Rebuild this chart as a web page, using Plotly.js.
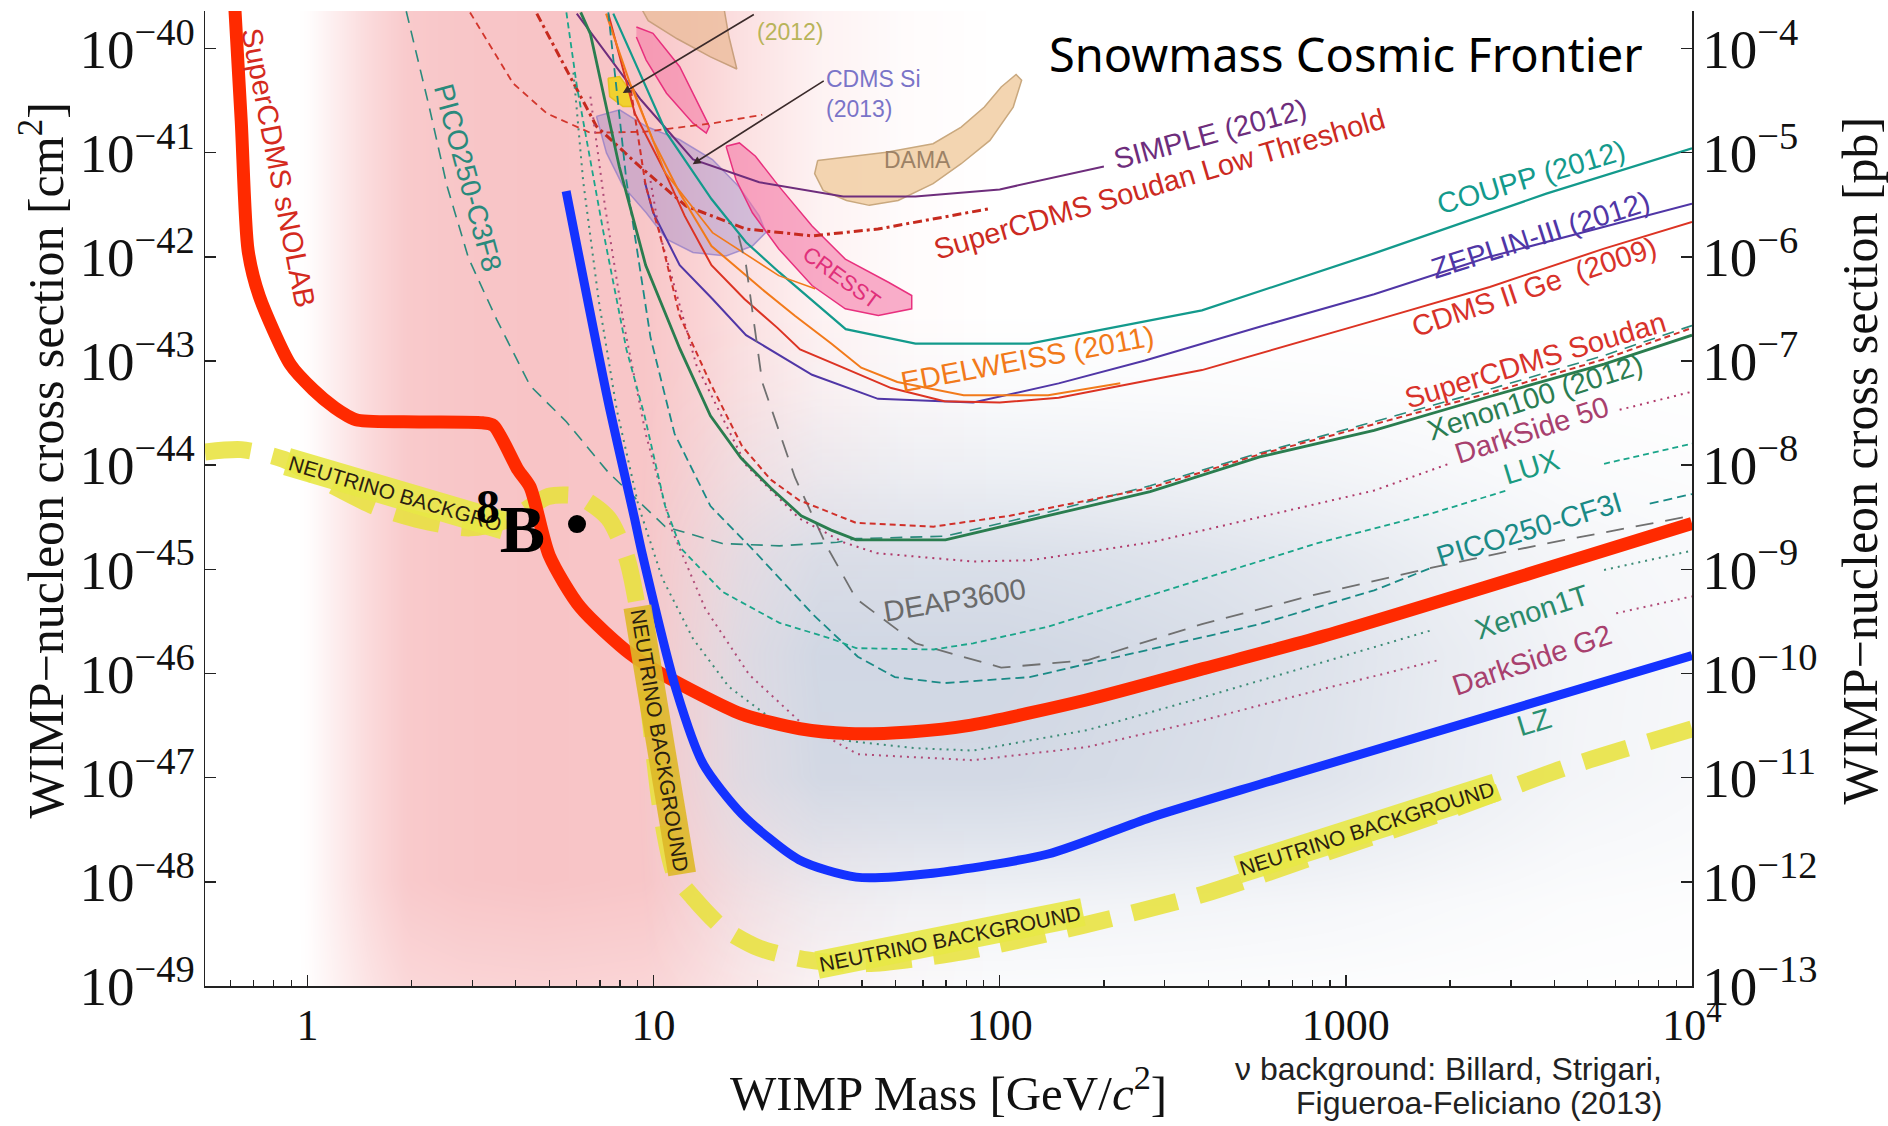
<!DOCTYPE html>
<html>
<head>
<meta charset="utf-8">
<script src="https://cdn.plot.ly/plotly-3.0.1.min.js"></script>
<style>html,body{margin:0;padding:0;background:#fff;}#chart{width:1888px;height:1126px;}</style>
</head>
<body>
<div id="chart"></div>
<script>
// ---------- data (WIMP mass in GeV, cross section in cm^2) ----------
const snolabMass  = [0.615, 0.644, 0.674, 0.726, 0.894, 1.04, 1.20, 1.30, 1.40, 2.1, 3.2, 3.45, 4.06, 4.40, 5.0, 6.14, 8.55, 10.8, 17.9, 26.5, 36.6, 55, 82.7, 179, 390, 869, 10000];
const snolabSigma = [3e-40, 2.0e-41, 1.15e-42, 4.2e-43, 9.2e-44, 5.3e-44, 3.55e-44, 3.0e-44, 2.7e-44, 2.6e-44, 2.55e-44, 2.4e-44, 9.0e-45, 6.15e-45, 1.35e-45, 4.33e-46, 1.55e-46, 9.5e-47, 4.1e-47, 2.95e-47, 2.65e-47, 2.75e-47, 3.2e-47, 5.6e-47, 1.12e-46, 2.3e-46, 2.75e-45];

const blueMass  = [5.59, 7.38, 8.8, 9.27, 11.66, 13.9, 17.97, 26.3, 38.5, 64.1, 138, 272, 608, 10000];
const blueSigma = [4.28e-42, 4.2e-44, 3.14e-45, 1.42e-45, 6.75e-47, 1.36e-47, 4.5e-48, 1.63e-48, 1.11e-48, 1.21e-48, 1.85e-48, 4.13e-48, 9.3e-48, 1.49e-46];

const nuMass  = [0.506, 0.644, 0.852, 1.128, 1.553, 2.14, 2.95, 3.90, 4.96, 6.06, 7.40, 8.35, 9.05, 9.80, 10.6, 11.5, 13.0, 15.8, 20.2, 27.8, 41.4, 78.7, 175, 390, 869, 1937, 4315, 10000];
const nuSigma = [1.34e-44, 1.41e-44, 1.14e-44, 6.9e-45, 4.05e-45, 2.94e-45, 2.5e-45, 3.1e-45, 5.0e-45, 5.0e-45, 3.1e-45, 1.32e-45, 3.68e-46, 3.36e-47, 3.99e-48, 1.2e-48, 7.1e-49, 3.64e-49, 2.31e-49, 1.78e-49, 1.64e-49, 2.14e-49, 3.84e-49, 7.66e-49, 1.89e-48, 4.69e-48, 1.25e-47, 2.94e-47];

const simpleMass  = [6.0, 9.19, 13.0, 20.2, 35.3, 57.1, 100, 200];
const simpleSigma = [2.16e-40, 3.22e-41, 8.6e-42, 5.2e-42, 3.79e-42, 3.79e-42, 4.44e-42, 7.36e-42];

const ltMass  = [4.6, 6.84, 9.1, 12.4, 18.5, 28.7, 44.5, 93.5];
const ltSigma = [2.16e-40, 1.79e-41, 7.43e-42, 3.08e-42, 1.85e-42, 1.59e-42, 1.85e-42, 2.9e-42];

const couppMass  = [7.65, 10.9, 14.7, 18.5, 23.1, 35.9, 57.1, 122, 384, 1207, 3795, 10000];
const couppSigma = [2.16e-40, 1.55e-41, 3.59e-42, 1.38e-42, 7.08e-43, 2.02e-43, 1.47e-43, 1.47e-43, 3.06e-43, 1.08e-42, 4.04e-42, 1.1e-41];

const zeplinMass  = [9.42, 9.96, 11.9, 14.8, 18.5, 28.7, 44.5, 83.8, 148, 263, 564, 1207, 2605, 5572, 10000];
const zeplinSigma = [5.35e-42, 2.68e-42, 8.3e-43, 3.94e-43, 1.77e-43, 7.37e-44, 4.33e-44, 3.99e-44, 6.1e-44, 1.01e-43, 2.13e-43, 4.38e-43, 1.0e-42, 1.95e-42, 3.23e-42];

const cdmsGeMass  = [7.40, 8.83, 10.8, 12.3, 14.7, 18.3, 22.8, 26.5, 35.3, 48.6, 69.2, 100, 148, 384, 1207, 2605, 5572, 10000];
const cdmsGeSigma = [2.16e-40, 2.38e-41, 6.44e-42, 2.47e-42, 8.3e-43, 3.94e-43, 2.08e-43, 1.29e-43, 8.63e-44, 5.5e-44, 4.1e-44, 3.99e-44, 4.44e-44, 8.18e-44, 2.44e-43, 5.14e-43, 1.2e-42, 2.16e-42];

const edelMass  = [7.29, 8.55, 9.96, 11.9, 14.7, 20.6, 25.6, 32.6, 39.8, 50.6, 78.7, 138, 223];
const edelSigma = [2.16e-40, 4.62e-41, 1.32e-41, 4.1e-42, 1.27e-42, 4.88e-43, 2.72e-43, 1.47e-43, 8.63e-44, 6.28e-44, 4.69e-44, 4.69e-44, 6.1e-44];

const orange2Mass  = [8.69, 10.8, 14.8, 23.0, 29.3];
const orange2Sigma = [4.31e-41, 6.44e-42, 1.71e-42, 6.6e-43, 4.93e-43];

const xe100Mass  = [6.16, 6.57, 7.96, 9.49, 11.9, 14.6, 17.9, 21.8, 26.7, 32.6, 38.5, 69.7, 138, 272, 564, 1207, 2605, 5572, 10000];
const xe100Sigma = [2.22e-40, 1.38e-40, 7.36e-42, 8.3e-43, 1.32e-43, 2.98e-44, 1.17e-44, 6.03e-45, 3.27e-45, 2.38e-45, 1.92e-45, 1.92e-45, 3.27e-45, 5.57e-45, 1.2e-44, 2.16e-44, 4.56e-44, 9.35e-44, 1.77e-43];

const soudanMass  = [8.6, 9.49, 10.4, 11.9, 14.6, 18.0, 21.8, 26.3, 38.5, 64.4, 107, 272, 564, 1207, 2605, 5572, 10000];
const soudanSigma = [4e-41, 4.81e-42, 1.7e-42, 2.72e-43, 6.1e-44, 1.53e-44, 7.26e-45, 4.62e-45, 2.79e-45, 2.57e-45, 3.27e-45, 6.03e-45, 1.27e-44, 2.47e-44, 4.94e-44, 1.04e-43, 2.08e-43];

const ds50Mass  = [9.8, 10.4, 13.3, 18.5, 26.3, 35.3, 44.2, 83.2, 122, 275, 1207, 1983, null, 6180, 10000];
const ds50Sigma = [5.35e-42, 1.7e-42, 9.12e-44, 1.0e-44, 3.1e-45, 1.82e-45, 1.43e-45, 1.19e-45, 1.22e-45, 1.82e-45, 5.71e-45, 1.03e-44, null, 3.4e-44, 5.07e-44];

const luxMass  = [5.6, 6.01, 7.17, 8.35, 9.42, 10.8, 12.0, 15.8, 23.1, 32.6, 38.5, 64.4, 83.8, 138, 272, 822, 1775, 2912, null, 5572, 10000];
const luxSigma = [2.22e-40, 4.26e-41, 1.7e-42, 1.29e-43, 2.98e-44, 4.05e-45, 1.59e-45, 6.1e-46, 3.06e-46, 2.16e-46, 1.75e-46, 1.7e-46, 1.95e-46, 2.82e-46, 5.63e-46, 1.77e-45, 3.45e-45, 5.71e-45, null, 1.03e-44, 1.61e-44];

const cf3iMass  = [7.40, 8.35, 9.80, 11.5, 14.6, 19.8, 28.9, 38.9, 49.8, 69.2, 122, 263, 564, 1207, 1775, null, 7550, 10000];
const cf3iSigma = [2.22e-40, 5.35e-42, 1.68e-43, 2.0e-44, 4.05e-45, 1.43e-45, 3.68e-46, 1.45e-46, 9.23e-47, 8.09e-47, 9.23e-47, 1.66e-46, 2.98e-46, 6.28e-46, 1.04e-45, null, 4.27e-45, 5.28e-45];

const c3f8Mass  = [1.93, 2.25, 2.53, 2.92, 3.52, 4.40, 5.6, 7.40, 10.8, 15.8, 23.1, 33.9, 38.5, 69.7, 138, 272, 564, 1207, 2605, 5572, 10000];
const c3f8Sigma = [2.28e-40, 2.72e-41, 4.81e-42, 9.73e-43, 2.51e-43, 5.79e-44, 2.61e-44, 8.53e-45, 2.57e-45, 1.77e-45, 1.68e-45, 1.82e-45, 1.97e-45, 2.08e-45, 3.54e-45, 6.35e-45, 1.31e-44, 2.61e-44, 5.35e-44, 1.13e-43, 2.19e-43];

const deapMass  = [17.6, 18.5, 20.6, 25.6, 31.6, 38.5, 57.1, 101, 179, 384, 828, 1775, 3795, 10000];
const deapSigma = [1.6e-42, 8.3e-43, 6.28e-44, 7.66e-45, 1.68e-45, 5.21e-46, 1.95e-46, 1.14e-46, 1.34e-46, 2.98e-46, 5.79e-46, 1.04e-45, 1.77e-45, 3.27e-45];

const xe1tMass  = [5.87, 6.26, 6.95, 7.83, 9.05, 10.6, 13.0, 16.5, 22.7, 36.7, 57.1, 83.8, 179, 384, 828, 1775, null, 5572, 10000];
const xe1tSigma = [5.87e-41, 5.35e-42, 3.73e-43, 3.4e-44, 4.05e-45, 8.18e-46, 2.16e-46, 7.46e-47, 3.36e-47, 2.25e-47, 1.92e-47, 1.82e-47, 2.86e-47, 5.87e-47, 1.24e-46, 2.61e-46, null, 9.86e-46, 1.51e-45];

const dsG2Mass  = [6.57, 7.23, 8.22, 9.49, 11.3, 14.1, 18.9, 26.7, 38.9, 83.8, 179, 384, 828, 1845, null, 6039, 10000];
const dsG2Sigma = [3.45e-41, 3.14e-42, 2.19e-43, 2.0e-44, 2.38e-45, 4.21e-46, 9.73e-47, 3.36e-47, 1.68e-47, 1.47e-47, 1.97e-47, 3.54e-47, 6.89e-47, 1.34e-46, null, 3.78e-46, 5.5e-46];

const redDashMass  = [2.95, 3.17, 3.93, 4.92, 6.57, 9.49, 14.9, 20.6];
const redDashSigma = [2.22e-40, 1.49e-40, 4.62e-41, 2.38e-41, 1.55e-41, 1.59e-41, 1.92e-41, 2.31e-41];

// signal regions (closed contours)
const damaMass  = [29.8, 47.1, 64.2, 77.4, 90.3, 101, 111.5, 115.7, 109.4, 93.7, 77.4, 64.2, 50.9, 42.0, 36.1, 30.9, 29.2, 29.8];
const damaSigma = [8.43e-42, 1.01e-41, 1.22e-41, 1.76e-41, 2.74e-41, 4.27e-41, 5.64e-41, 4.95e-41, 2.74e-41, 1.31e-41, 7.83e-42, 5.04e-42, 3.48e-42, 3.12e-42, 3.48e-42, 4.35e-42, 6.28e-42, 8.43e-42];
const damaTopMass  = [8.9, 15.8, 16.5, 17.4, 14.6, 11.7, 9.65, 8.9];
const damaTopSigma = [3e-40, 3e-40, 1.31e-40, 6.35e-41, 8.3e-41, 1.24e-40, 1.85e-40, 3e-40];
const cdmsSiMass  = [6.84, 7.98, 9.52, 11.9, 14.8, 17.6, 20.2, 21.1, 19.3, 16.2, 13.0, 10.9, 9.52, 8.16, 7.31, 6.84];
const cdmsSiSigma = [2.23e-41, 2.58e-41, 1.79e-41, 1.33e-41, 8.59e-42, 4.77e-42, 2.47e-42, 1.71e-42, 1.27e-42, 1.02e-42, 1.1e-42, 1.48e-42, 2.65e-42, 4.77e-42, 9.95e-42, 2.23e-41];
const cresstLowMass  = [16.2, 17.7, 19.7, 23.0, 28.7, 35.8, 47.7, 55.7, 55.7, 44.6, 35.8, 28.7, 23.0, 19.3, 17.3, 16.2];
const cresstLowSigma = [1.15e-41, 1.24e-41, 9.23e-42, 4.77e-42, 1.98e-42, 9.5e-43, 5.7e-43, 4.25e-43, 3.17e-43, 2.74e-43, 3.17e-43, 5.3e-43, 1.19e-42, 2.65e-42, 5.52e-42, 1.15e-41];
const cresstHighMass  = [8.92, 9.96, 11.9, 13.3, 14.5, 14.2, 13.0, 10.9, 9.52, 8.92];
const cresstHighSigma = [1.61e-40, 1.40e-40, 6.68e-41, 3.22e-41, 1.79e-41, 1.54e-41, 1.92e-41, 3.72e-41, 7.74e-41, 1.29e-40];
const cogentMass  = [7.39, 7.98, 8.52, 8.71, 8.16, 7.47, 7.39];
const cogentSigma = [5.19e-41, 5.37e-41, 4.01e-41, 2.77e-41, 2.77e-41, 3.46e-41, 5.19e-41];

const b8Mass = [6.01];
const b8Sigma = [2.72e-45];

// background shading stops (decoration only)
const pinkStopMass  = [0.3, 0.95, 1.0, 1.2, 1.5, 1.93, 2.8, 4.8, 9.6, 13.5, 18.6, 30, 52, 100, 20000];
const pinkStopLevel = [0, 0, 0.04, 0.3, 0.62, 0.9, 0.97, 1, 0.96, 0.75, 0.5, 0.22, 0.07, 0, 0];
const pinkStopSigma = [3e-50, 1e-49, 1e-48, 1e-39];
const pinkStopRow   = [0.6, 0.75, 1, 1];
const grayStopMass  = [0.3, 9, 13.5, 18.6, 30, 52, 100, 180, 400, 900, 2000, 4500, 20000];
const grayStopLevel = [0, 0, 0.35, 0.7, 1, 1, 1, 0.95, 0.85, 0.7, 0.48, 0.28, 0.12];
const grayStopSigma = [3e-50, 1e-49, 6e-49, 3e-48, 1e-47, 1.6e-46, 1.3e-45, 8e-45, 5e-44, 3e-43, 1e-39];
const grayStopRow   = [0.05, 0.1, 0.3, 0.7, 0.95, 1, 0.8, 0.4, 0.12, 0, 0];

const xTickVals = [1, 10, 100, 1000, 10000];
const xTickText = ['1', '10', '100', '1000', '10<sup>4</sup>'];

// ---------- helpers ----------
function stopInterp(xs, vs, x) {
  const lx = Math.log10(x);
  for (let i = 0; i < xs.length - 1; i++) {
    const a = Math.log10(xs[i]), b = Math.log10(xs[i + 1]);
    if (lx >= a && lx <= b) return vs[i] + (vs[i + 1] - vs[i]) * (lx - a) / (b - a);
  }
  return lx < Math.log10(xs[0]) ? vs[0] : vs[vs.length - 1];
}
const gridMass = [], gridSigma = [];
for (let i = 0; i <= 220; i++) gridMass.push(Math.pow(10, -0.4 + 4.5 * i / 220));
for (let i = 0; i <= 120; i++) gridSigma.push(Math.pow(10, -49.3 + 9.9 * i / 120));
function shade(mStops, mLevels, sStops, sLevels) {
  return gridSigma.map(s => gridMass.map(m => stopInterp(mStops, mLevels, m) * stopInterp(sStops, sLevels, s)));
}
function line(x, y, color, width, dash, shape) {
  return {type: 'scatter', mode: 'lines', x: x, y: y, connectgaps: false,
          line: {color: color, width: width, dash: dash || 'solid', shape: shape || 'linear', smoothing: 0.7},
          hoverinfo: 'skip', showlegend: false};
}
function region(x, y, fill, edge) {
  return {type: 'scatter', mode: 'lines', x: x, y: y, fill: 'toself', fillcolor: fill,
          line: {color: edge, width: 1.5}, hoverinfo: 'skip', showlegend: false};
}

const minorVals = [];
for (let d = -1; d <= 3; d++) for (let k = 2; k <= 9; k++) minorVals.push(k * Math.pow(10, d));

const traces = [
  {type: 'heatmap', x: gridMass, y: gridSigma, z: shade(pinkStopMass, pinkStopLevel, pinkStopSigma, pinkStopRow),
   zmin: 0, zmax: 1, zsmooth: 'best',
   colorscale: [[0, 'rgba(248,196,198,0)'], [1, 'rgba(248,196,198,1)']], showscale: false, hoverinfo: 'skip'},
  {type: 'heatmap', x: gridMass, y: gridSigma, z: shade(grayStopMass, grayStopLevel, grayStopSigma, grayStopRow),
   zmin: 0, zmax: 1, zsmooth: 'best',
   colorscale: [[0, 'rgba(206,213,226,0)'], [1, 'rgba(206,213,226,0.95)']], showscale: false, hoverinfo: 'skip'},
  region(damaMass, damaSigma, 'rgba(242,208,168,0.9)', '#c9a87e'),
  region(damaTopMass, damaTopSigma, 'rgba(236,190,160,0.85)', '#c9a07e'),
  region(cdmsSiMass, cdmsSiSigma, 'rgba(150,130,200,0.4)', 'rgba(140,120,200,0.7)'),
  region(cresstLowMass, cresstLowSigma, 'rgba(244,110,160,0.55)', '#e8307e'),
  region(cresstHighMass, cresstHighSigma, 'rgba(244,110,160,0.5)', '#e8307e'),
  region(cogentMass, cogentSigma, 'rgba(240,210,30,0.9)', '#e8c020'),
  line(redDashMass, redDashSigma, '#d2362c', 1.8, '7px,5px'),
  line(c3f8Mass, c3f8Sigma, '#2a8a7c', 1.6, '12px,8px'),
  line(simpleMass, simpleSigma, '#6e2d7c', 2),
  line(ltMass, ltSigma, '#c62a1e', 3, '9px,4px,3px,4px'),
  line(couppMass, couppSigma, '#139a8c', 2.2),
  line(zeplinMass, zeplinSigma, '#5036a6', 2),
  line(cdmsGeMass, cdmsGeSigma, '#dc3323', 2),
  line(edelMass, edelSigma, '#f27a1a', 2),
  line(orange2Mass, orange2Sigma, '#f27a1a', 1.6),
  line(deapMass, deapSigma, '#707070', 1.8, '18px,12px'),
  line(dsG2Mass, dsG2Sigma, '#b04c78', 2, '2px,5px'),
  line(xe1tMass, xe1tSigma, '#3d8c78', 2, '2px,5px'),
  line(cf3iMass, cf3iSigma, '#1a8a86', 1.8, '9px,5px'),
  line(luxMass, luxSigma, '#1aa58a', 1.8, '6px,4px'),
  line(ds50Mass, ds50Sigma, '#b03a6a', 2, '2px,5px'),
  line(soudanMass, soudanSigma, '#d0302a', 2, '6px,4px'),
  line(xe100Mass, xe100Sigma, '#2a7d4f', 2.8),
  line(nuMass, nuSigma, 'rgba(232,226,56,0.85)', 17, '46px,22px', 'spline'),
  line(snolabMass, snolabSigma, '#ff2a00', 13, 'solid', 'spline'),
  line(blueMass, blueSigma, '#1432ff', 9, 'solid', 'spline'),
  {type: 'scatter', mode: 'markers', x: b8Mass, y: b8Sigma, marker: {color: '#000', size: 18}, hoverinfo: 'skip', showlegend: false},
  {type: 'scatter', mode: 'markers', x: [1], y: [1e-8], yaxis: 'y2', marker: {opacity: 0}, hoverinfo: 'skip', showlegend: false}
];

// ---------- annotations ----------
const SANS = 'Liberation Sans, Arial, sans-serif';
const SERIF = 'Liberation Serif, Times New Roman, serif';
function lab(text, lx, ly, color, size, angle, extra) {
  return Object.assign({xref: 'x', yref: 'y', x: lx, y: ly, text: text, showarrow: false,
    textangle: angle || 0, xanchor: 'center', yanchor: 'middle',
    font: {family: SANS, size: size, color: color}}, extra || {});
}
function nuLab(text, lx, ly, angle, bg) {
  return lab(text, lx, ly, '#2a2010', 21, angle, {bgcolor: bg, borderpad: 2});
}
const annotations = [
  lab('SIMPLE (2012)', 2.6087, -40.821, '#6e2d7c', 29, -15),
  lab('SuperCDMS Soudan Low Threshold', 2.4609, -41.298, '#cc2a22', 29, -16.4),
  lab('COUPP (2012)', 3.5374, -41.237, '#139a8c', 29, -16.6),
  lab('ZEPLIN-III (2012)', 3.5617, -41.792, '#5036a6', 29, -17.7),
  lab('CDMS II Ge\u00a0 (2009)', 3.5426, -42.289, '#d8322a', 29, -18.6),
  lab('EDELWEISS (2011)', 2.0793, -42.978, '#f27a1a', 29, -10.5),
  lab('SuperCDMS Soudan', 3.5478, -42.994, '#d8322a', 29, -16.8),
  lab('Xenon100 (2012)', 3.5478, -43.347, '#2a7d52', 29, -17.7),
  lab('DarkSide 50', 3.5374, -43.665, '#a8406e', 29, -17.8),
  lab('LUX', 3.5357, -44.017, '#1a9a80', 29, -17),
  lab('PICO250-CF3I', 3.5304, -44.61, '#1a8a86', 29, -17),
  lab('DEAP3600', 1.8713, -45.295, '#6a6a6a', 29, -9.4),
  lab('Xenon1T', 3.5374, -45.41, '#2a8a6a', 29, -18),
  lab('DarkSide G2', 3.5374, -45.873, '#a8406e', 29, -18.6),
  lab('LZ', 3.5443, -46.462, '#2a9070', 29, -17),
  lab('SuperCDMS sNOLAB', -0.0842, -41.15, '#d42a1e', 29, 78.9),
  lab('PICO250-C3F8', 0.464, -41.235, '#2a8a7c', 28, 75),
  lab('CDMS Si<br>(2013)', 1.635, -40.439, '#7a74c8', 23, 0, {align: 'left'}),
  lab('(2012)', 1.3948, -39.838, '#b8b45a', 23, 0),
  lab('DAMA', 1.7635, -41.075, '#9c8266', 23, 0),
  lab('CRESST', 1.5423, -42.197, '#e0307a', 22, 36),
  nuLab('NEUTRINO BACKGRO', 0.2539, -44.272, 16.4, 'rgba(232,232,70,0.9)'),
  nuLab('NEUTRINO BACKGROUND', 1.017, -46.647, 80.5, 'rgba(222,184,40,0.9)'),
  nuLab('NEUTRINO BACKGROUND', 1.8574, -48.543, -11.3, 'rgba(232,232,70,0.9)'),
  nuLab('NEUTRINO BACKGROUND', 3.0609, -47.491, -17.7, 'rgba(232,232,70,0.9)'),
  {xref: 'x', yref: 'y', x: 0.5864, y: -44.566, text: '<b><sup>8</sup>B</b>', showarrow: false,
   font: {family: SERIF, size: 68, color: '#000'}},
  {xref: 'x', yref: 'y', x: 0.911, y: -40.428, axref: 'x', ayref: 'y', ax: 1.294, ay: -39.665, text: '',
   showarrow: true, arrowhead: 2, arrowsize: 1, arrowwidth: 1.6, arrowcolor: '#3a2a2a'},
  {xref: 'x', yref: 'y', x: 1.113, y: -41.11, axref: 'x', ayref: 'y', ax: 1.496, ay: -40.301, text: '',
   showarrow: true, arrowhead: 2, arrowsize: 1, arrowwidth: 1.6, arrowcolor: '#3a2a2a'},
  {xref: 'paper', yref: 'paper', x: 0.7673, y: 0.9559, xanchor: 'center', yanchor: 'middle',
   text: 'Snowmass Cosmic Frontier', showarrow: false,
   font: {family: 'Noto Sans, DejaVu Sans, sans-serif', size: 47, color: '#000'}},
  {xref: 'paper', yref: 'paper', x: 0.9805, y: -0.0855, xanchor: 'right', yanchor: 'middle', align: 'right',
   text: 'ν background: Billard, Strigari,', showarrow: false, borderpad: 0,
   font: {family: SANS, size: 32, color: '#222'}},
  {xref: 'paper', yref: 'paper', x: 0.9805, y: -0.1195, xanchor: 'right', yanchor: 'middle', align: 'right',
   text: 'Figueroa-Feliciano (2013)', showarrow: false, borderpad: 0,
   font: {family: SANS, size: 32, color: '#222'}},
  // y-axis titles (placed like the reference, slightly above the plot centre)
  {xref: 'paper', yref: 'paper', x: -0.1096, y: 0.539, xanchor: 'center', yanchor: 'middle', textangle: -90,
   text: 'WIMP\u2212nucleon cross section [cm<sup>2</sup>]', showarrow: false,
   font: {family: SERIF, size: 50, color: '#111'}},
  {xref: 'paper', yref: 'paper', x: 1.113, y: 0.539, xanchor: 'center', yanchor: 'middle', textangle: -90,
   text: 'WIMP\u2212nucleon cross section [pb]', showarrow: false,
   font: {family: SERIF, size: 50, color: '#111'}}
];

const axisCommon = {
  showgrid: false, zeroline: false, showline: true, linecolor: '#222', linewidth: 1.5,
  ticks: 'inside', ticklen: 11, tickwidth: 1.5, tickcolor: '#222',
  tickfont: {family: SERIF, size: 44, color: '#111'}, automargin: false
};
const layout = {
  width: 1888, height: 1126,
  margin: {l: 205, r: 196, t: 11, b: 140},
  paper_bgcolor: '#ffffff', plot_bgcolor: '#ffffff',
  showlegend: false,
  font: {family: SANS},
  xaxis: Object.assign({}, axisCommon, {
    type: 'log', range: [Math.log10(0.506), 4], tickmode: 'array', tickvals: xTickVals, ticktext: xTickText,
    minor: {tickmode: 'array', tickvals: minorVals, ticks: 'inside', ticklen: 6, tickwidth: 1.2, tickcolor: '#222', showgrid: false},
    title: {text: 'WIMP Mass [GeV/<i>c</i><sup>2</sup>]', font: {family: SERIF, size: 49, color: '#111'}, standoff: 26}
  }),
  yaxis: Object.assign({}, axisCommon, {
    type: 'log', range: [-49, -39.64], dtick: 1, exponentformat: 'power', showexponent: 'all'
  }),
  yaxis2: Object.assign({}, axisCommon, {
    type: 'log', range: [-13, -3.64], dtick: 1, exponentformat: 'power', showexponent: 'all',
    overlaying: 'y', side: 'right', anchor: 'x'
  }),
  annotations: annotations
};

Plotly.newPlot('chart', traces, layout, {staticPlot: true, displayModeBar: false});
</script>
</body>
</html>
